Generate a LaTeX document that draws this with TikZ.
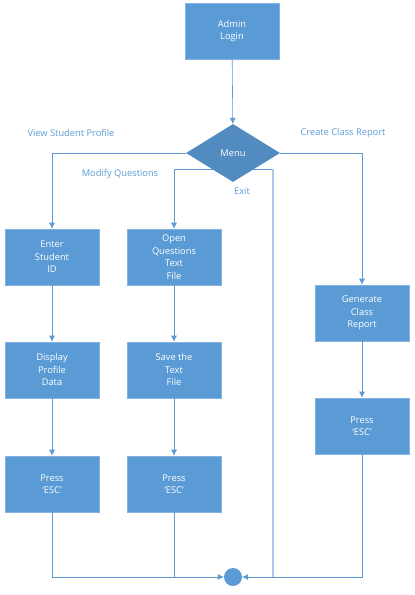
\documentclass[tikz,border=0pt]{standalone}
\usepackage{fontspec}
\setmainfont{Open Sans}
\usetikzlibrary{arrows.meta,positioning,shapes.geometric,backgrounds,shadows}
\definecolor{flowBlue}{HTML}{5B9BD5}
\definecolor{flowEdge}{HTML}{85B2E0}
\definecolor{flowLight}{HTML}{A9C9EA}
\tikzset{
    >=Latex,
    stepbox/.style={draw=flowEdge, line width=0.6pt, fill=flowBlue, text=white, align=center, minimum width=94pt, minimum height=56pt, inner sep=2pt, font=\fontsize{9.3}{12.5}\selectfont, drop shadow={shadow xshift=0.8pt, shadow yshift=-0.8pt, opacity=0.15}},
    choice/.style={diamond, fill=flowBlue!90!black, text=white, minimum width=94pt, minimum height=58pt, inner sep=0pt, font=\fontsize{9.3}{11}\selectfont},
    endpoint/.style={circle, fill=flowBlue, minimum size=18pt, inner sep=0pt},
    lbl/.style={text=flowBlue, font=\fontsize{9.3}{11}\selectfont},
    arrow/.style={-{Latex[length=6pt,width=6pt]}, line width=0.6pt, draw=flowBlue},
    link/.style={line width=0.6pt, draw=flowBlue},
    exitlink/.style={line width=1.2pt, draw=flowLight}
}
\begin{document}
\begin{tikzpicture}[x=1pt,y=-1pt]
\useasboundingbox (0,0) rectangle (415,595);
% top of the chart
\node[stepbox] (login) at (232,31) {Admin\\Login};
\node[choice] (menu) at (233,153) {Menu};
\draw[arrow] (login) -- (menu);
% four columns
\node[stepbox] (enter) at (52,257) {Enter\\Student\\ID};
\node[stepbox] (display) at (52,370) {Display\\Profile\\Data};
\node[stepbox] (esca) at (52,484) {Press\\`ESC'};
\node[stepbox] (open) at (174,257) {Open\\Questions\\Text\\File};
\node[stepbox] (save) at (174,370) {Save the\\Text\\File};
\node[stepbox] (escb) at (174,484) {Press\\`ESC'};
\node[stepbox] (report) at (362,313) {Generate\\Class\\Report};
\node[stepbox] (escc) at (362,426) {Press\\`ESC'};
\node[endpoint] (done) at (233,577) {};
\coordinate (exitturn) at (273,169);
\coordinate (exitfoot) at (273,577);
% menu branches
\draw[arrow] (menu.west) -| (enter.north);
\draw[arrow] (menu.east) -| (report.north);
\begin{scope}[on background layer]
\draw[arrow] ([yshift=-16pt]menu.center) -| (open.north);
\draw[link] ([yshift=-16pt]menu.center) -- (exitturn);
\end{scope}
\draw[exitlink] (exitturn) -- (exitfoot);
\draw[arrow] (enter) -- (display);
\draw[arrow] (display) -- (esca);
\draw[arrow] (open) -- (save);
\draw[arrow] (save) -- (escb);
\draw[arrow] (report) -- (escc);
% back to the end
\draw[arrow] (esca.south) |- (done.west);
\draw[link] (escb.south) -- (escb.south |- done.west);
\draw[arrow] (escc.south) |- (done.east);
% labels
\node[lbl] (viewlbl) at (71,133) {View Student Profile};
\node[lbl] (createlbl) at (343,133) {Create Class Report};
\node[lbl] (modifylbl) at (120,174) {Modify Questions};
\node[lbl] (exitlbl) at (242,191) {Exit};
\end{tikzpicture}
\end{document}
